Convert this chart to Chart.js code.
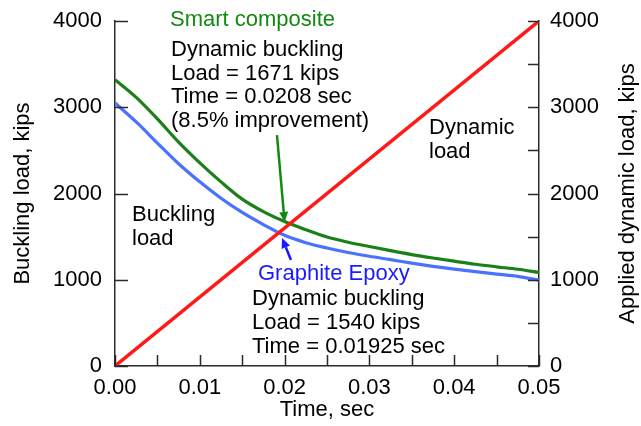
<!DOCTYPE html>
<html>
<head>
<meta charset="utf-8">
<script src="https://cdn.jsdelivr.net/npm/chart.js@4"></script>
<style>
html,body{margin:0;padding:0;background:#fff;}
#wrap{width:641px;height:426px;position:relative;}
</style>
</head>
<body>
<div id="wrap"><canvas id="c" width="641" height="426"></canvas></div>
<script>
// ---- data ----
const timeSec = [0, 0.0025, 0.005, 0.0075, 0.01, 0.0125, 0.015, 0.0175, 0.02, 0.0225, 0.025,
                 0.0275, 0.03, 0.0325, 0.035, 0.0375, 0.04, 0.0425, 0.045, 0.0475, 0.05];
const smartComposite = [3320, 3115, 2865, 2595, 2355, 2135, 1935, 1790, 1675, 1580, 1495,
                        1435, 1385, 1337, 1292, 1252, 1215, 1180, 1150, 1122, 1085];
const graphiteEpoxy = [3050, 2830, 2585, 2345, 2135, 1945, 1780, 1640, 1515, 1430, 1368,
                       1316, 1272, 1233, 1192, 1155, 1123, 1095, 1066, 1040, 995];
const appliedTime = [0, 0.05];
const appliedLoad = [0, 4000];
const xTickLabels = ['0.00', '0.01', '0.02', '0.03', '0.04', '0.05'];
const yTickLabels = ['0', '1000', '2000', '3000', '4000'];

const FONT = '"Liberation Sans", Arial, Helvetica, sans-serif';
const AXIS = '#2a2a2a';

const toXY = (xs, ys) => xs.map((x, i) => ({x: x, y: ys[i]}));

// inward tick marks drawn from the scales
const inwardTicks = {
  id: 'inwardTicks',
  afterDatasetsDraw(chart) {
    const ctx = chart.ctx;
    const sx = chart.scales.x, sy = chart.scales.y, sy2 = chart.scales.y2;
    ctx.save();
    ctx.strokeStyle = AXIS;
    ctx.lineWidth = 1.5;
    ctx.beginPath();
    sx.ticks.forEach(t => {
      const px = Math.round(sx.getPixelForValue(t.value)) + 0.5;
      ctx.moveTo(px, sx.top);
      ctx.lineTo(px, sx.top - 11);
    });
    sy.ticks.forEach(t => {
      const py = Math.round(sy.getPixelForValue(t.value)) + 0.5;
      ctx.moveTo(sy.right, py);
      ctx.lineTo(sy.right + 13, py);
    });
    sy2.ticks.forEach(t => {
      const py = Math.round(sy2.getPixelForValue(t.value)) + 0.5;
      ctx.moveTo(sy2.left, py);
      ctx.lineTo(sy2.left - 11, py);
    });
    ctx.stroke();
    ctx.restore();
  }
};

// annotations: arrow anchors in data units
const greenArrow = {from: [0.0191, 2678], to: [0.0200, 1670]};
const blueArrow = {from: [0.02075, 1229], to: [0.0197, 1484]};

function arrow(ctx, chart, a, color) {
  const sx = chart.scales.x, sy = chart.scales.y;
  const x1 = sx.getPixelForValue(a.from[0]), y1 = sy.getPixelForValue(a.from[1]);
  const x2 = sx.getPixelForValue(a.to[0]), y2 = sy.getPixelForValue(a.to[1]);
  const ang = Math.atan2(y2 - y1, x2 - x1);
  const L = 10, W = 4.5;
  const bx = x2 - L * Math.cos(ang), by = y2 - L * Math.sin(ang);
  ctx.strokeStyle = color; ctx.fillStyle = color; ctx.lineWidth = 2.5;
  ctx.beginPath(); ctx.moveTo(x1, y1); ctx.lineTo(bx, by); ctx.stroke();
  ctx.beginPath();
  ctx.moveTo(x2, y2);
  ctx.lineTo(bx + W * Math.sin(ang), by - W * Math.cos(ang));
  ctx.lineTo(bx - W * Math.sin(ang), by + W * Math.cos(ang));
  ctx.closePath(); ctx.fill();
}

const notes = {
  id: 'notes',
  afterDatasetsDraw(chart) {
    const ctx = chart.ctx;
    ctx.save();
    ctx.font = '22px ' + FONT;
    ctx.textBaseline = 'alphabetic';
    ctx.textAlign = 'left';
    const t = (s, x, y, c) => { ctx.fillStyle = c; ctx.fillText(s, x, y); };
    t('Smart composite', 170, 26, '#128a12');
    t('Dynamic buckling', 171, 56, '#000');
    t('Load = 1671 kips', 171, 79.5, '#000');
    t('Time = 0.0208 sec', 171, 103, '#000');
    t('(8.5% improvement)', 171, 126.5, '#000');
    t('Dynamic', 429, 134, '#000');
    t('load', 429, 157.5, '#000');
    t('Buckling', 132, 221, '#000');
    t('load', 132, 244.5, '#000');
    t('Graphite Epoxy', 258, 280, '#1a1aff');
    t('Dynamic buckling', 252, 304.5, '#000');
    t('Load = 1540 kips', 252, 328.5, '#000');
    t('Time = 0.01925 sec', 252, 352.5, '#000');
    arrow(ctx, chart, greenArrow, '#128a12');
    arrow(ctx, chart, blueArrow, '#1a1aff');
    // right axis title, reading bottom-to-top
    const sy2 = chart.scales.y2;
    ctx.translate(628, (sy2.top + sy2.bottom) / 2);
    ctx.rotate(-Math.PI / 2);
    ctx.textAlign = 'center';
    ctx.textBaseline = 'middle';
    ctx.fillStyle = '#000';
    ctx.fillText('Applied dynamic load, kips', 0, 0);
    ctx.restore();
  }
};

const noPad = s => { s.paddingTop = 0; s.paddingBottom = 0; s.paddingLeft = 0; s.paddingRight = 0; };

new Chart(document.getElementById('c'), {
  type: 'line',
  data: {
    datasets: [
      {label: 'Dynamic load', data: toXY(appliedTime, appliedLoad), yAxisID: 'y2',
       borderColor: '#ff1a1a', borderWidth: 3.5, pointRadius: 0, tension: 0},
      {label: 'Smart composite', data: toXY(timeSec, smartComposite), yAxisID: 'y',
       borderColor: '#1a801a', borderWidth: 3.2, pointRadius: 0, cubicInterpolationMode: 'monotone'},
      {label: 'Graphite Epoxy', data: toXY(timeSec, graphiteEpoxy), yAxisID: 'y',
       borderColor: '#4a72ff', borderWidth: 3.2, pointRadius: 0, cubicInterpolationMode: 'monotone'}
    ]
  },
  options: {
    responsive: false,
    animation: false,
    layout: {padding: {top: 21, right: 0, bottom: 0, left: 0}},
    plugins: {legend: {display: false}, tooltip: {enabled: false}},
    scales: {
      x: {
        type: 'linear', min: 0, max: 0.05,
        afterFit: s => { s.height = 60; noPad(s); },
        border: {display: true, color: AXIS, width: 1.5},
        grid: {display: true, drawOnChartArea: false, drawTicks: false, color: 'transparent'},
        ticks: {
          stepSize: 0.005, padding: 9, color: '#000', maxRotation: 0, autoSkip: false,
          font: {size: 22, family: FONT},
          callback: v => {
            const k = Math.round(v * 1000);
            return k % 10 === 0 ? xTickLabels[k / 10] : '';
          }
        },
        title: {display: true, text: 'Time, sec', color: '#000', font: {size: 22, family: FONT},
                padding: {top: 0, bottom: 3}}
      },
      y: {
        position: 'left', min: 0, max: 4000,
        afterFit: s => { s.width = 115; noPad(s); },
        border: {display: true, color: AXIS, width: 1.5},
        grid: {display: true, drawOnChartArea: false, drawTicks: false, color: 'transparent'},
        ticks: {stepSize: 1000, padding: 13, color: '#000', font: {size: 22, family: FONT},
                callback: v => yTickLabels[Math.round(v / 1000)]},
        title: {display: true, text: 'Buckling load, kips', color: '#000', font: {size: 22, family: FONT},
                padding: {top: 10, bottom: 0}}
      },
      y2: {
        position: 'right', min: 0, max: 4000,
        afterFit: s => { s.width = 102; noPad(s); },
        border: {display: true, color: AXIS, width: 1.5},
        grid: {display: true, drawOnChartArea: false, drawTicks: false, color: 'transparent'},
        ticks: {stepSize: 500, padding: 11, color: '#000', font: {size: 22, family: FONT},
                callback: v => (Math.round(v) % 1000 === 0 ? yTickLabels[Math.round(v / 1000)] : '')},
        title: {display: false}
      }
    }
  },
  plugins: [inwardTicks, notes]
});
</script>
</body>
</html>
